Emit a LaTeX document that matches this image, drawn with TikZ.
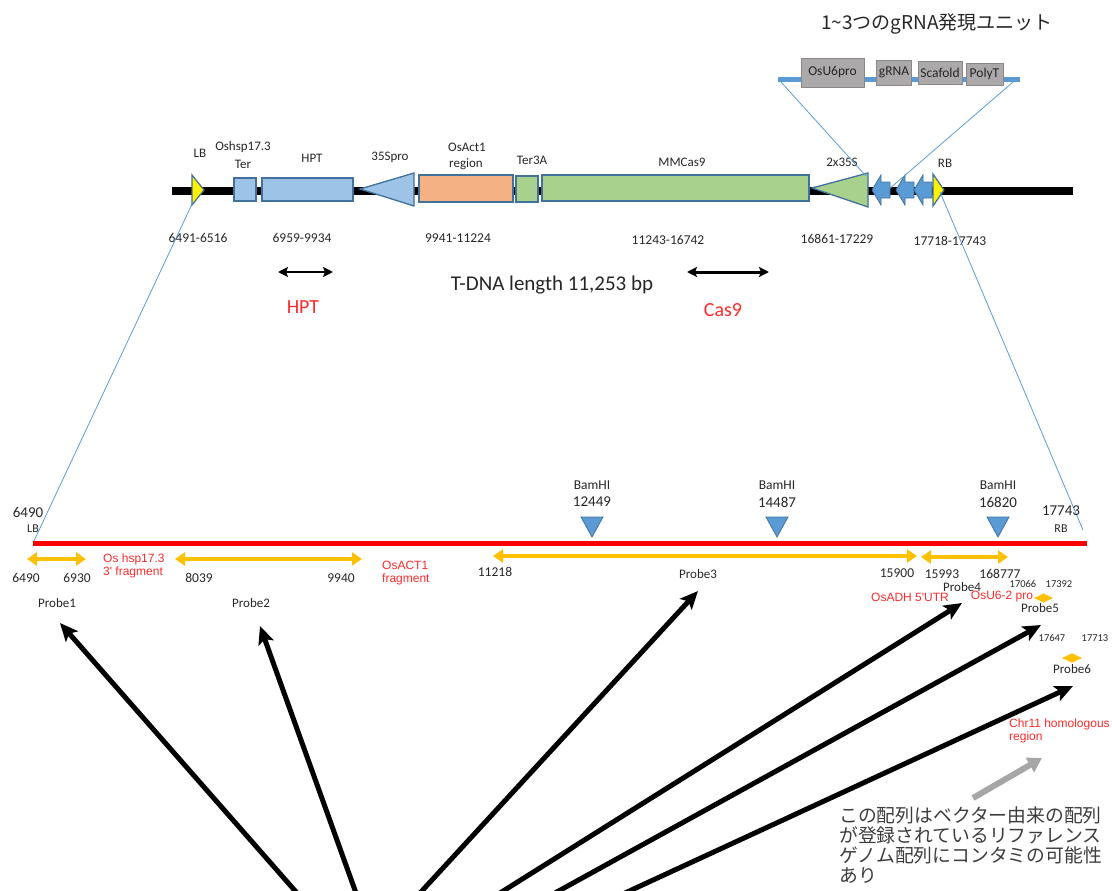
\documentclass[tikz,border=0pt]{standalone}
\usepackage{fontspec}
\setmainfont{Carlito}
\newfontfamily\jpfont{Noto Sans CJK JP}
\newfontfamily\arfont{Liberation Sans}
\usetikzlibrary{arrows.meta}
\definecolor{lblue}{HTML}{9DC3E6}
\definecolor{bdr}{HTML}{41719C}
\definecolor{salmon}{HTML}{F4B183}
\definecolor{lgreen}{HTML}{A9D18E}
\definecolor{mblue}{HTML}{5B9BD5}
\definecolor{gbox}{HTML}{ABA9A9}
\definecolor{gold}{HTML}{FFC000}
\definecolor{redt}{HTML}{FF2A2A}
\definecolor{txt}{HTML}{262626}
\definecolor{garrow}{HTML}{A6A6A6}
\begin{document}
\begin{tikzpicture}[x=1pt,y=-1pt,
  lbl/.style={font=\fontsize{13}{15}\selectfont, text=txt, inner sep=0},
  num/.style={font=\fontsize{13.5}{15}\selectfont, text=txt, inner sep=0},
  bignum/.style={font=\fontsize{15}{17}\selectfont, text=txt, inner sep=0},
  tiny/.style={font=\fontsize{10.5}{12}\selectfont, text=txt, inner sep=0},
  redl/.style={font=\arfont\fontsize{12}{13.5}\selectfont, text=redt, inner sep=0, align=left},
  blk/.style={draw=bdr, line width=1.3pt, inner sep=0},
  gbx/.style={fill=gbox, draw=gbox!80!black, line width=0.5pt, inner sep=0, font=\fontsize{13.5}{15}\selectfont, text=txt},
  thinb/.style={draw=mblue, line width=0.8pt},
  yarrow/.style={draw=gold, line width=4pt, {Triangle[width=13pt,length=10pt]}-{Triangle[width=13pt,length=10pt]}},
  ysmall/.style={draw=gold, line width=1pt, {Triangle[width=9pt,length=10pt]}-{Triangle[width=9pt,length=10pt]}},
  karrow/.style={draw=black, line width=5pt, -{Stealth[length=18pt,width=16pt,inset=4pt]}},
  dblk/.style={draw=black, line width=2.5pt, {Stealth[length=10pt,width=10pt,inset=2pt]}-{Stealth[length=10pt,width=10pt,inset=2pt]}},
  bamtri/.style={fill=mblue, draw=bdr, line width=0.8pt}
]
\useasboundingbox (0,0) rectangle (1112,891);

% ---------- gRNA unit ----------
\node[font=\jpfont\fontsize{19}{22}\selectfont, text=txt, inner sep=0] (title) at (937,24) {1\textasciitilde3つのgRNA発現ユニット};
\coordinate (gl) at (778,80);
\coordinate (gr) at (1020,80);
\draw[draw=mblue, line width=5pt] (gl) -- (gr);
\node[gbx, minimum width=63, minimum height=29] (u6) at (832.5,72.5) {OsU6pro};
\node[gbx, minimum width=35, minimum height=25] (grna) at (894,72.5) {gRNA};
\node[gbx, minimum width=44, minimum height=23] (scaf) at (940,72.5) {Scafold};
\node[gbx, minimum width=37, minimum height=22] (polyt) at (984.5,74) {PolyT};

% ---------- construct ----------
\coordinate (cl) at (172,191);
\coordinate (cr) at (1073,191);
\draw[line width=8pt] (cl) -- (cr);
\draw[fill=yellow, draw=bdr, line width=1.2pt] (192,175) -- (204,190) -- (192,205) -- cycle;
\node[blk, fill=lblue, minimum width=22, minimum height=23] (ter) at (245,189.5) {};
\node[blk, fill=lblue, minimum width=91, minimum height=23] (hptbox) at (307.5,189.5) {};
\draw[fill=lblue, draw=bdr, line width=1.3pt] (360,189) -- (414,173) -- (414,206) -- cycle;
\node[blk, fill=salmon, minimum width=94, minimum height=27] (act) at (466,188.5) {};
\node[blk, fill=lgreen, minimum width=22, minimum height=26] (ter3a) at (527,189) {};
\node[blk, fill=lgreen, minimum width=267, minimum height=26] (cas) at (675.5,188) {};
\draw[fill=lgreen, draw=bdr, line width=1.3pt] (812,188) -- (868,173) -- (868,207) -- cycle;
\foreach \x in {872,896,914}
  \draw[fill=mblue, draw=bdr, line width=0.8pt] (\x,190) -- ++(9,-15) -- ++(0,7) -- ++(9,0) -- ++(0,16) -- ++(-9,0) -- ++(0,7) -- cycle;
\draw[fill=yellow, draw=bdr, line width=1.2pt] (933,174) -- (944,190) -- (933,206) -- cycle;
\coordinate (lbpt) at (193,202);
\coordinate (rbpt) at (940,192);

% construct labels
\node[lbl] (tLB) at (200,153) {LB};
\node[lbl] (tOs) at (243,147) {Oshsp17.3};
\node[lbl] (tTer) at (243,164) {Ter};
\node[lbl] (tHPT) at (312,158) {HPT};
\node[lbl] (t35) at (390,157) {35Spro};
\node[lbl] (tAct) at (467,147) {OsAct1};
\node[lbl] (tReg) at (466,164) {region};
\node[lbl] (tT3) at (532,160) {Ter3A};
\node[lbl] (tMM) at (682,162) {MMCas9};
\node[lbl] (t2x) at (842,162) {2x35S};
\node[lbl] (tRB) at (945,163) {RB};

\node[num] (n1) at (198,238) {6491-6516};
\node[num] (n2) at (302,238) {6959-9934};
\node[num] (n3) at (458,238) {9941-11224};
\node[num] (n4) at (668,240) {11243-16742};
\node[num] (n5) at (837,239) {16861-17229};
\node[num] (n6) at (950,241) {17718-17743};

% zoom lines from gRNA unit
\coordinate (zl) at (866,176);
\coordinate (zr) at (888,190);
\draw[thinb] (781,82) -- (zl);
\draw[thinb] (1013,82) -- (zr);

% HPT / Cas9 markers
\coordinate (h1) at (278,272); \coordinate (h2) at (333,272);
\coordinate (c1) at (687,272); \coordinate (c2) at (769,272);
\draw[dblk] (h1) -- (h2);
\draw[dblk, line width=3pt] (c1) -- (c2);
\node[font=\fontsize{21}{24}\selectfont, text=txt, inner sep=0] (tdna) at (552,285) {T-DNA length 11,253 bp};
\node[font=\fontsize{20}{23}\selectfont, text=redt, inner sep=0] (rHPT) at (303,307) {HPT};
\node[font=\fontsize{20}{23}\selectfont, text=redt, inner sep=0] (rCas) at (723,310) {Cas9};

% ---------- lower map ----------
\coordinate (ml) at (33,543);
\coordinate (mr) at (1087,543);
\coordinate (mrt) at (1083,530);
\draw[thinb] (lbpt) -- (ml);
\draw[thinb] (rbpt) -- (mrt);
\draw[draw=red, line width=5pt] (ml) -- (mr);

\node[bignum] (l6490) at (28,512) {6490};
\node[lbl, font=\fontsize{12}{14}\selectfont] (lLB) at (33,529) {LB};
\node[bignum] (l17743) at (1061,511) {17743};
\node[lbl, font=\fontsize{12}{14}\selectfont] (lRB) at (1061,529) {RB};

\foreach \x/\n in {592/12449, 777/14487, 998/16820}{
  \draw[bamtri] (\x-11,517) -- (\x+11,517) -- (\x,537) -- cycle;
  \node[num] at (\x,485) {BamHI};
  \node[bignum] at (\x,502) {\n};
}

% probes
\coordinate (p1a) at (27,559); \coordinate (p1b) at (86,559);
\coordinate (p2a) at (175,559); \coordinate (p2b) at (362,559);
\coordinate (p3a) at (493,556); \coordinate (p3b) at (917,556);
\coordinate (p4a) at (921,557); \coordinate (p4b) at (1008,557);
\coordinate (p5a) at (1034,598); \coordinate (p5b) at (1053,598);
\coordinate (p6a) at (1062,658); \coordinate (p6b) at (1082,658);
\draw[yarrow] (p1a) -- (p1b);
\draw[yarrow] (p2a) -- (p2b);
\draw[yarrow, line width=3.5pt] (p3a) -- (p3b);
\draw[yarrow] (p4a) -- (p4b);
\draw[ysmall] (p5a) -- (p5b);
\draw[ysmall] (p6a) -- (p6b);

\node[num] (a1) at (26,578) {6490};
\node[num] (a2) at (77,578) {6930};
\node[lbl] (pr1) at (57,603) {Probe1};
\node[num] (a3) at (199,578) {8039};
\node[num] (a4) at (341,578) {9940};
\node[lbl] (pr2) at (251,603) {Probe2};
\node[num] (a5) at (495,572) {11218};
\node[lbl] (pr3) at (698,574) {Probe3};
\node[num] (a6) at (897,573) {15900};
\node[num] (a7) at (942,574) {15993};
\node[num] (a8) at (1000,574) {168777};
\node[lbl] (pr4) at (962,587) {Probe4};
\node[tiny] (a9) at (1023,584) {17066};
\node[tiny] (a10) at (1059,584) {17392};
\node[lbl] (pr5) at (1040,608) {Probe5};
\node[tiny] (a11) at (1052,638) {17647};
\node[tiny] (a12) at (1095,638) {17713};
\node[lbl] (pr6) at (1072,669) {Probe6};

\node[redl, anchor=west] (r1) at (103,566) {Os hsp17.3\\3' fragment};
\node[redl, anchor=west] (r2) at (382,573) {OsACT1\\fragment};
\node[redl] (r3) at (910,597) {OsADH 5'UTR};
\node[redl] (r4) at (1002,597) {OsU6-2 pro};
\node[redl, anchor=west] (r5) at (1009,731) {Chr11 homologous\\region};

% big black arrows
\coordinate (s1) at (297,893); \coordinate (e1) at (60,623);
\coordinate (s2) at (356,893); \coordinate (e2) at (260,626);
\coordinate (s3) at (420,893); \coordinate (e3) at (698,591);
\coordinate (s4) at (500,893); \coordinate (e4) at (962,603);
\coordinate (s5) at (555,893); \coordinate (e5) at (1041,625);
\coordinate (s6) at (625,893); \coordinate (e6) at (1073,686);
\foreach \i in {1,...,6} \draw[karrow] (s\i) -- (e\i);

% gray arrow and note
\coordinate (g1) at (973,798); \coordinate (g2) at (1042,758);
\draw[draw=garrow, line width=6pt, -{Triangle[width=16pt,length=14pt]}] (g1) -- (g2);
\node[font=\jpfont\fontsize{18.8}{20}\selectfont, text=txt!90!white, inner sep=0, align=left, anchor=north west] (note) at (839,807)
  {この配列はベクター由来の配列\\が登録されているリファレンス\\ゲノム配列にコンタミの可能性\\あり};
\end{tikzpicture}
\end{document}
